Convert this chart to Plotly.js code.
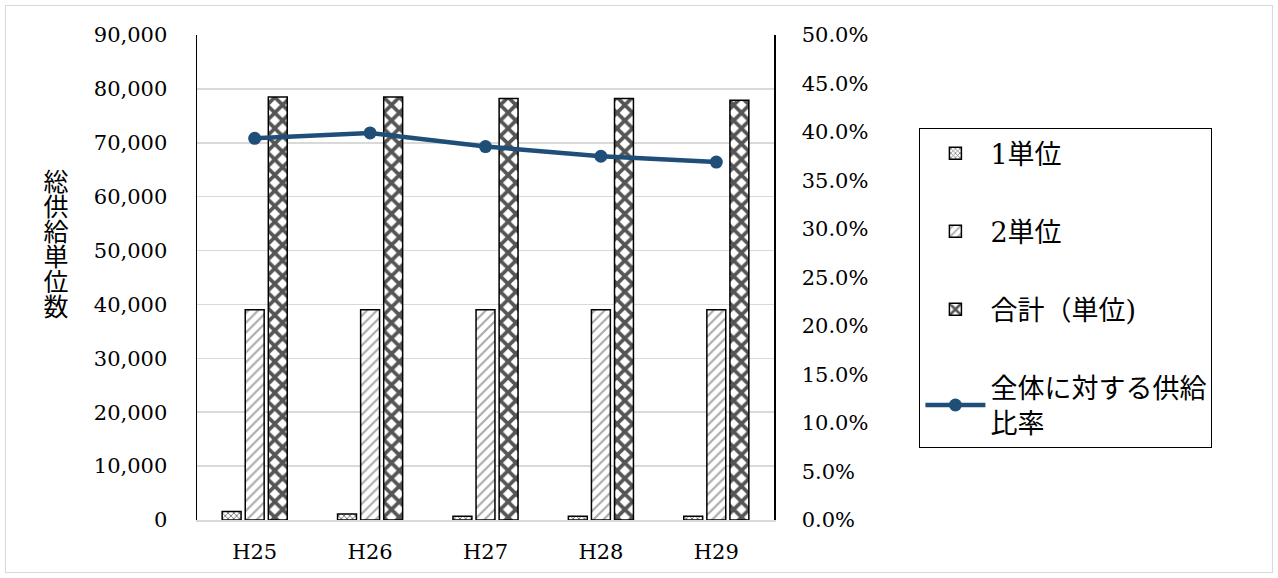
<!DOCTYPE html>
<html><head><meta charset="utf-8">
<script src="https://cdn.plot.ly/plotly-3.0.1.min.js"></script>
<style>
html,body{margin:0;padding:0;background:#fff;}
#chart{position:absolute;left:0;top:0;width:1278px;height:578px;}
#frame{position:absolute;left:5px;top:5px;width:1266px;height:566px;border:1px solid #d9d9d9;pointer-events:none;}
#chart .annotation-text{writing-mode:vertical-rl;}
</style>
</head><body>
<div id="chart"></div><div id="frame"></div>
<script>
const categories = ['H25', 'H26', 'H27', 'H28', 'H29'];
const unit1 = [1600, 1100, 700, 700, 700];
const unit2 = [39000, 39000, 39000, 39000, 39000];
const totalUnits = [78500, 78500, 78200, 78200, 77900];
const supplyRatio = [0.3935, 0.399, 0.385, 0.375, 0.369];
const seriesNames = ['1単位', '2単位', '合計（単位)', '全体に対する供給<br>比率'];
const yTitle = '総供給単位数';

const FONT = "'DejaVu Serif', 'Noto Sans CJK JP', serif";
const barLine = {color: '#000', width: 1.5};

const traces = [
  {type: 'bar', name: seriesNames[0], x: categories, y: unit1, legendgroup: 'a',
   marker: {color: '#fff', line: barLine,
            pattern: {shape: 'x', fgcolor: '#777', bgcolor: '#fff', size: 4, solidity: 0.4}}},
  {type: 'bar', name: seriesNames[1], x: categories, y: unit2, legendgroup: 'b',
   marker: {color: '#fff', line: barLine,
            pattern: {shape: '/', fgcolor: '#aaa', bgcolor: '#fff', size: 7, solidity: 0.3}}},
  {type: 'bar', name: seriesNames[2], x: categories, y: totalUnits, legendgroup: 'c',
   marker: {color: '#fff', line: barLine,
            pattern: {shape: 'x', fgcolor: '#555', bgcolor: '#fff', size: 11, solidity: 0.55}}},
  {type: 'scatter', mode: 'lines+markers', name: seriesNames[3], x: categories, y: supplyRatio,
   yaxis: 'y2', legendgroup: 'd',
   line: {color: '#1F4E79', width: 4.5}, marker: {color: '#1F4E79', size: 13}}
];

const layout = {
  width: 1278, height: 578,
  margin: {l: 197, r: 504, t: 35, b: 58},
  paper_bgcolor: '#fff', plot_bgcolor: '#fff',
  font: {family: FONT, color: '#000', size: 21},
  barmode: 'group', bargap: 0.4, bargroupgap: 0.18,
  showlegend: true,
  legend: {x: 1.252, y: 0.808, xanchor: 'left', yanchor: 'top',
           bordercolor: '#000', borderwidth: 1, bgcolor: '#fff',
           font: {family: FONT, size: 27, color: '#000'},
           itemwidth: 60,
           tracegroupgap: 40, traceorder: 'grouped'},
  xaxis: {type: 'category', showgrid: false, showline: true, linecolor: '#d9d9d9', linewidth: 2,
          ticks: 'outside', ticklen: 12, tickcolor: 'rgba(0,0,0,0)',
          tickfont: {family: FONT, size: 21}, zeroline: false},
  yaxis: {range: [0, 90000], dtick: 10000, tickformat: ',d', showgrid: true, gridcolor: '#d9d9d9', gridwidth: 1.5,
          showline: true, linecolor: '#000', linewidth: 1.5, zeroline: false,
          ticks: 'outside', ticklen: 24, tickcolor: 'rgba(0,0,0,0)',
          tickfont: {family: FONT, size: 21}},
  yaxis2: {range: [0, 0.5], dtick: 0.05, tickformat: '.1%', overlaying: 'y', side: 'right',
           showgrid: false, showline: true, linecolor: '#000', linewidth: 1.5, zeroline: false,
           ticks: 'outside', ticklen: 22, tickcolor: 'rgba(0,0,0,0)',
           tickfont: {family: FONT, size: 21}},
  annotations: [{text: yTitle, xref: 'paper', yref: 'paper', x: -0.245, y: 0.592,
                 xanchor: 'center', yanchor: 'middle', showarrow: false,
                 font: {family: "'Noto Sans CJK JP', sans-serif", size: 25, color: '#000'}}]
};

Plotly.newPlot('chart', traces, layout, {displayModeBar: false, staticPlot: true});
</script>
</body></html>
